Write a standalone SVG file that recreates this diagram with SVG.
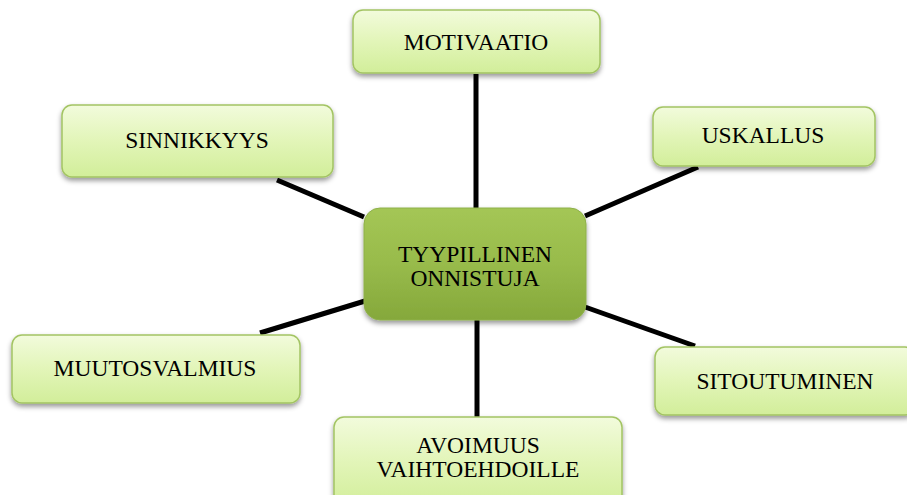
<svg xmlns="http://www.w3.org/2000/svg" width="907" height="495" viewBox="0 0 907 495">
<defs>
<linearGradient id="gLight" x1="0" y1="0" x2="0" y2="1">
<stop offset="0" stop-color="#f2fbdc"/>
<stop offset="0.5" stop-color="#e2f5b8"/>
<stop offset="1" stop-color="#d2ee9a"/>
</linearGradient>
<linearGradient id="gDark" x1="0" y1="0" x2="0" y2="1">
<stop offset="0" stop-color="#a4c655"/>
<stop offset="0.5" stop-color="#98bb4b"/>
<stop offset="1" stop-color="#85a83b"/>
</linearGradient>
<filter id="sh" x="-10%" y="-10%" width="120%" height="130%">
<feDropShadow dx="0" dy="3" stdDeviation="2.5" flood-color="#000" flood-opacity="0.4"/>
</filter>
</defs>
<style>
.box{fill:url(#gLight);stroke:#a3c463;stroke-width:1.5;filter:url(#sh)}
.core{fill:url(#gDark);stroke:#8eb04a;stroke-width:1;filter:url(#sh)}
.t{font-family:"Liberation Serif","Times New Roman",serif;font-size:23.5px;fill:#000;text-anchor:middle}
.c{stroke:#000;stroke-width:5;fill:none}
</style>
<g id="connectors">
<line class="c" x1="476" y1="74" x2="476" y2="210"/>
<line class="c" x1="477" y1="320" x2="477" y2="418"/>
<line class="c" x1="698" y1="167" x2="585" y2="216"/>
<line class="c" x1="277" y1="180" x2="364" y2="217"/>
<line class="c" x1="260" y1="333" x2="365" y2="301"/>
<line class="c" x1="585" y1="307" x2="695" y2="346"/>
</g>
<g id="motivaatio">
<rect class="box" x="353" y="10" width="247" height="63" rx="10"/>
<text class="t" x="476" y="50">MOTIVAATIO</text>
</g>
<g id="sinnikkyys">
<rect class="box" x="62" y="105" width="271" height="72" rx="10"/>
<text class="t" x="197" y="148">SINNIKKYYS</text>
</g>
<g id="uskallus">
<rect class="box" x="653" y="107" width="222" height="59" rx="10"/>
<text class="t" x="763" y="143">USKALLUS</text>
</g>
<g id="muutosvalmius">
<rect class="box" x="12" y="335" width="288" height="68" rx="10"/>
<text class="t" x="155" y="376">MUUTOSVALMIUS</text>
</g>
<g id="sitoutuminen">
<rect class="box" x="655" y="347" width="260" height="68" rx="10"/>
<text class="t" x="785" y="389">SITOUTUMINEN</text>
</g>
<g id="avoimuus">
<rect class="box" x="334" y="417" width="288" height="90" rx="10"/>
<text class="t" x="478" y="453">AVOIMUUS</text>
<text class="t" x="478" y="477">VAIHTOEHDOILLE</text>
</g>
<g id="center">
<rect class="core" x="364" y="208" width="222" height="112" rx="16"/>
<text class="t" x="475" y="262">TYYPILLINEN</text>
<text class="t" x="475" y="286">ONNISTUJA</text>
</g>
</svg>
